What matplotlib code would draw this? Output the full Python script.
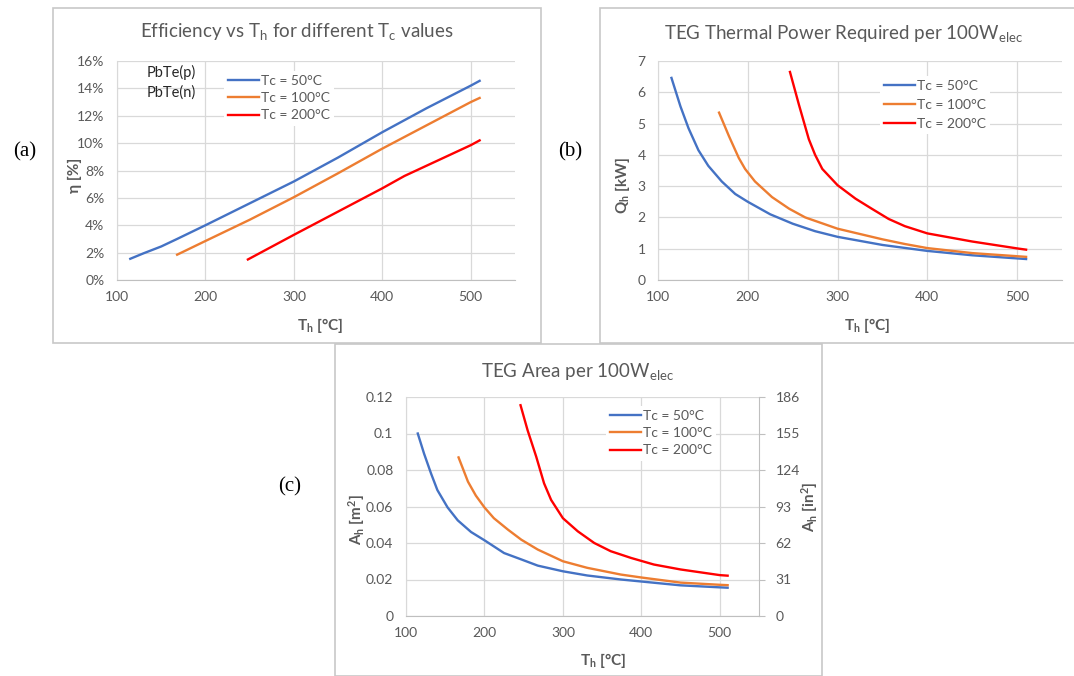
import matplotlib
matplotlib.use('Agg')
import matplotlib.pyplot as plt
from matplotlib.patches import Rectangle
from matplotlib.ticker import PercentFormatter, FuncFormatter

plt.rcParams['font.family'] = ['Lato', 'DejaVu Sans']
plt.rcParams['mathtext.default'] = 'regular'

# (a) efficiency [%] vs hot side temperature [degC]
th_a_50 = [115, 130, 150, 168, 200, 250, 300, 350, 400, 450, 500, 510]
eff_50 = [1.55, 1.95, 2.45, 3.0, 4.0, 5.6, 7.2, 8.95, 10.8, 12.55, 14.2, 14.55]
th_a_100 = [168, 200, 250, 300, 350, 400, 450, 500, 510]
eff_100 = [1.85, 2.85, 4.4, 6.05, 7.8, 9.6, 11.3, 13.0, 13.3]
th_a_200 = [248, 300, 350, 400, 425, 450, 500, 510]
eff_200 = [1.5, 3.3, 5.0, 6.7, 7.6, 8.35, 9.85, 10.2]

# (b) thermal power [kW]
th_b_50 = [115, 125, 134, 145, 156, 171, 186, 200, 225, 250, 275, 300, 350, 400, 450, 500, 510]
q_50 = [6.46, 5.55, 4.85, 4.15, 3.65, 3.15, 2.75, 2.5, 2.1, 1.8, 1.56, 1.38, 1.12, 0.93, 0.79, 0.69, 0.67]
th_b_100 = [168, 179, 190, 197, 208, 227, 246, 264, 300, 350, 375, 400, 450, 500, 510]
q_100 = [5.35, 4.6, 3.9, 3.55, 3.15, 2.65, 2.28, 2.0, 1.64, 1.3, 1.15, 1.02, 0.86, 0.76, 0.74]
th_b_200 = [247, 257, 268, 275, 283, 300, 320, 338, 357, 375, 400, 450, 500, 510]
q_200 = [6.65, 5.6, 4.5, 4.0, 3.55, 3.03, 2.6, 2.28, 1.95, 1.72, 1.49, 1.23, 1.01, 0.97]

# (c) area [m2]
th_c_50 = [115, 123, 132, 140, 153, 166, 183, 200, 225, 247, 268, 300, 331, 374, 400, 450, 500, 510]
a_50 = [0.1, 0.089, 0.078, 0.069, 0.0595, 0.0524, 0.046, 0.0415, 0.0345, 0.031, 0.0276,
        0.0245, 0.0222, 0.020, 0.0189, 0.0168, 0.0157, 0.0155]
th_c_100 = [167, 179, 189, 200, 212, 230, 247, 268, 300, 331, 374, 400, 450, 500, 510]
a_100 = [0.0869, 0.0736, 0.066, 0.0595, 0.0536, 0.0473, 0.0418, 0.0364, 0.030, 0.0264,
         0.0227, 0.0211, 0.0183, 0.0171, 0.0169]
th_c_200 = [246, 255, 266, 276, 285, 300, 319, 340, 361, 387, 416, 450, 500, 510]
a_200 = [0.1155, 0.1018, 0.0873, 0.0727, 0.0636, 0.0536, 0.0464, 0.040, 0.0355, 0.0318,
         0.0282, 0.0255, 0.0224, 0.0221]

labels = ['Tc = 50°C', 'Tc = 100°C', 'Tc = 200°C']
colors = ['#4472C4', '#ED7D31', '#FF0000']
x_ticks = [100, 200, 300, 400, 500]
in2_ticks = [0, 31, 62, 93, 124, 155, 186]

W, H = 1074, 676
GRAY = '#595959'
GRID = '#d9d9d9'


def fx(px):
    return px / W


def fy(py):
    return 1 - py / H


def box(l, t, r, b):
    # axes position from pixel edges
    return [fx(l), fy(b), (r - l) / W, (b - t) / H]


def style(ax):
    ax.set_xlim(100, 550)
    ax.set_xticks(x_ticks)
    ax.grid(color=GRID, lw=0.9)
    ax.set_axisbelow(True)
    ax.patch.set_alpha(0)
    for s in ['top', 'right']:
        ax.spines[s].set_visible(False)
    ax.spines['left'].set_color(GRID)
    ax.spines['bottom'].set_color('#bfbfbf')
    ax.tick_params(length=0, labelsize=10, labelcolor=GRAY)
    ax.tick_params(axis='x', pad=8)
    ax.tick_params(axis='y', pad=9)


def legend(ax, x, y, sp):
    leg = ax.legend(loc='upper left', bbox_to_anchor=(fx(x), fy(y)),
                    bbox_transform=fig.transFigure, fontsize=10,
                    handlelength=2.2, handletextpad=0.15, labelspacing=sp,
                    borderpad=0.3, borderaxespad=0, framealpha=1,
                    edgecolor='none', fancybox=False)
    for t in leg.get_texts():
        t.set_color(GRAY)


fig = plt.figure(figsize=(10.74, 6.76), dpi=100)

# panel frames
for l, t, r, b in [(335, 344, 822, 676), (53, 8, 541, 343), (600, 8, 1080, 343)]:
    fig.patches.append(Rectangle((fx(l), fy(b)), (r - l) / W, (b - t) / H,
                                 transform=fig.transFigure, fc='white',
                                 ec='#c8c8c8', lw=1.2, zorder=-5))

# (a) efficiency
ax1 = fig.add_axes(box(117, 61, 515, 280))
for th, v, c, lb in zip([th_a_50, th_a_100, th_a_200], [eff_50, eff_100, eff_200], colors, labels):
    ax1.plot(th, v, color=c, lw=1.7, label=lb)
style(ax1)
ax1.set_ylim(0, 16)
ax1.set_yticks(range(0, 17, 2))
ax1.yaxis.set_major_formatter(PercentFormatter(xmax=100, decimals=0))
legend(ax1, 224, 71, 0.37)
fig.text(fx(147), fy(82), 'PbTe(p)\nPbTe(n)', fontsize=10.5, color='#262626',
         ha='left', va='center', linespacing=1.45)
fig.text(fx(297), fy(32), 'Efficiency vs T$_h$ for different T$_c$ values',
         fontsize=13.5, color=GRAY, ha='center', va='center')
fig.text(fx(320), fy(325), 'T$_h$ [°C]', fontsize=11, fontweight='bold',
         color=GRAY, ha='center', va='center')
fig.text(fx(75), fy(175), 'η [%]', fontsize=11, fontweight='bold',
         color=GRAY, ha='center', va='center', rotation=90)

# (b) thermal power
ax2 = fig.add_axes(box(658, 61, 1062, 280))
for th, v, c, lb in zip([th_b_50, th_b_100, th_b_200], [q_50, q_100, q_200], colors, labels):
    ax2.plot(th, v, color=c, lw=1.7, label=lb)
style(ax2)
ax2.set_ylim(0, 7)
ax2.set_yticks(range(0, 8))
legend(ax2, 880, 76, 0.48)
fig.text(fx(843), fy(34), 'TEG Thermal Power Required per 100W$_{elec}$',
         fontsize=13.5, color=GRAY, ha='center', va='center')
fig.text(fx(867), fy(325), 'T$_h$ [°C]', fontsize=11, fontweight='bold',
         color=GRAY, ha='center', va='center')
fig.text(fx(622), fy(185), 'Q$_h$ [kW]', fontsize=11, fontweight='bold',
         color=GRAY, ha='center', va='center', rotation=90)

# (c) area
ax3 = fig.add_axes(box(406, 397, 759, 616))
for th, v, c, lb in zip([th_c_50, th_c_100, th_c_200], [a_50, a_100, a_200], colors, labels):
    ax3.plot(th, v, color=c, lw=1.7, label=lb)
style(ax3)
ax3.set_ylim(0, 0.12)
ax3.set_yticks([0, 0.02, 0.04, 0.06, 0.08, 0.1, 0.12])
ax3.yaxis.set_major_formatter(FuncFormatter(lambda v, p: '%g' % round(v, 2)))
legend(ax3, 606, 406, 0.37)
ax3r = ax3.twinx()
ax3r.set_ylim(0, 186)
ax3r.set_yticks(in2_ticks)
ax3r.patch.set_alpha(0)
for s in ['top', 'left', 'bottom']:
    ax3r.spines[s].set_visible(False)
ax3r.spines['right'].set_color('#bfbfbf')
ax3r.tick_params(axis='y', length=4, color='#bfbfbf', labelsize=10,
                 labelcolor=GRAY, pad=8)
fig.text(fx(578), fy(372), 'TEG Area per 100W$_{elec}$',
         fontsize=13.5, color=GRAY, ha='center', va='center')
fig.text(fx(603), fy(660), 'T$_h$ [°C]', fontsize=11, fontweight='bold',
         color=GRAY, ha='center', va='center')
fig.text(fx(357), fy(520), 'A$_h$ [m$^2$]', fontsize=11, fontweight='bold',
         color=GRAY, ha='center', va='center', rotation=90)
fig.text(fx(810), fy(507), 'A$_h$ [in$^2$]', fontsize=11, fontweight='bold',
         color=GRAY, ha='center', va='center', rotation=90)

# panel letters
for s, x, y in [('(a)', 25, 152), ('(b)', 570, 152), ('(c)', 290, 487)]:
    fig.text(fx(x), fy(y), s, fontsize=15, family='Liberation Serif',
             ha='center', va='center')

fig.savefig('out.png', dpi=100, facecolor='white')
